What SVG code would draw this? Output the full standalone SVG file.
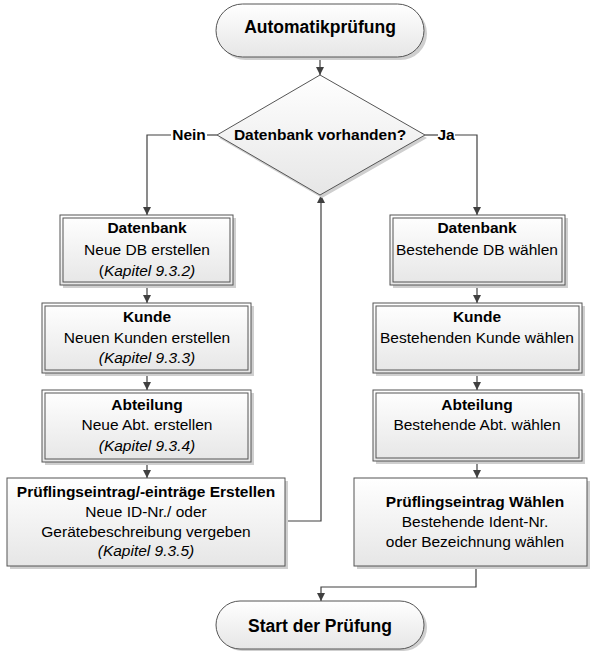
<svg xmlns="http://www.w3.org/2000/svg" width="593" height="652" viewBox="0 0 593 652">
<style>
text{font-family:"Liberation Sans",Arial,sans-serif;font-size:15.5px;fill:#000;text-anchor:middle}
.b{font-weight:bold}
.t{font-size:17.5px;font-weight:bold}
.i{font-style:italic}
.box{fill:url(#g);stroke:#555555;stroke-width:1}
.inner{fill:none;stroke:#555555;stroke-width:1}
.sh{fill:#cfcfcf}
.ln{fill:none;stroke:#404040;stroke-width:1.2}
</style>
<defs>
<linearGradient id="g" x1="0" y1="0" x2="0" y2="1">
<stop offset="0" stop-color="#ffffff"/>
<stop offset="1" stop-color="#e6e6e6"/>
</linearGradient>
<marker id="a" viewBox="0 0 10 10" refX="10" refY="5" markerWidth="8" markerHeight="8" markerUnits="userSpaceOnUse" orient="auto">
<path d="M0,0 L10,5 L0,10 z" fill="#404040"/>
</marker>
</defs>

<g id="connectors">
<path class="ln" d="M320,57 V75" marker-end="url(#a)"/>
<path class="ln" d="M217,135 H207"/>
<path class="ln" d="M171,135 H147 V215" marker-end="url(#a)"/>
<path class="ln" d="M425,135 H438"/>
<path class="ln" d="M455,135 H477 V215" marker-end="url(#a)"/>
<path class="ln" d="M147,285 V303" marker-end="url(#a)"/>
<path class="ln" d="M147,373 V390" marker-end="url(#a)"/>
<path class="ln" d="M147,462 V478" marker-end="url(#a)"/>
<path class="ln" d="M285,521 H321 V195" marker-end="url(#a)"/>
<path class="ln" d="M477,285 V303" marker-end="url(#a)"/>
<path class="ln" d="M477,373 V390" marker-end="url(#a)"/>
<path class="ln" d="M477,461 V478" marker-end="url(#a)"/>
<path class="ln" d="M476,566 V587 H321 V601" marker-end="url(#a)"/>
<text class="b" x="189" y="140">Nein</text>
<text class="b" x="446" y="140">Ja</text>
</g>

<g id="start">
<rect class="sh" x="219" y="7" width="208" height="53" rx="26.5"/>
<rect class="box" x="216" y="4" width="208" height="53" rx="26.5"/>
<text class="t" x="320" y="33">Automatikprüfung</text>
</g>

<g id="decision">
<polygon class="sh" points="322,78 427,138 322,198 219,138"/>
<polygon class="box" points="320,75 425,135 320,195 217,135"/>
<text class="b" x="320" y="140">Datenbank vorhanden?</text>
</g>

<g id="db-new">
<rect class="sh" x="63" y="218" width="173" height="70"/>
<rect class="box" x="60" y="215" width="173" height="70"/>
<rect class="inner" x="63" y="218" width="167" height="64"/>
<text class="b" x="147" y="233">Datenbank</text>
<text x="147" y="255">Neue DB erstellen</text>
<text x="147" y="276">(<tspan class="i">Kapitel 9.3.2)</tspan></text>
</g>

<g id="kunde-new">
<rect class="sh" x="45" y="306" width="209" height="70"/>
<rect class="box" x="42" y="303" width="209" height="70"/>
<rect class="inner" x="45" y="306" width="203" height="64"/>
<text class="b" x="147" y="322">Kunde</text>
<text x="147" y="343">Neuen Kunden erstellen</text>
<text class="i" x="147" y="363">(Kapitel 9.3.3)</text>
</g>

<g id="abt-new">
<rect class="sh" x="45" y="393" width="209" height="72"/>
<rect class="box" x="42" y="390" width="209" height="72"/>
<rect class="inner" x="45" y="393" width="203" height="66"/>
<text class="b" x="147" y="410">Abteilung</text>
<text x="147" y="430">Neue Abt. erstellen</text>
<text class="i" x="147" y="451">(Kapitel 9.3.4)</text>
</g>

<g id="pruef-new">
<rect class="sh" x="10" y="481" width="278" height="88"/>
<rect class="box" x="7" y="478" width="278" height="88"/>
<text class="b" x="146" y="497">Prüflingseintrag/-einträge Erstellen</text>
<text x="146" y="517">Neue ID-Nr./ oder</text>
<text x="146" y="537">Gerätebeschreibung vergeben</text>
<text class="i" x="146" y="556">(Kapitel 9.3.5)</text>
</g>

<g id="db-sel">
<rect class="sh" x="393" y="218" width="175" height="70"/>
<rect class="box" x="390" y="215" width="175" height="70"/>
<rect class="inner" x="393" y="218" width="169" height="64"/>
<text class="b" x="477" y="233">Datenbank</text>
<text x="477" y="255">Bestehende DB wählen</text>
</g>

<g id="kunde-sel">
<rect class="sh" x="376" y="306" width="209" height="70"/>
<rect class="box" x="373" y="303" width="209" height="70"/>
<rect class="inner" x="376" y="306" width="203" height="64"/>
<text class="b" x="477" y="322">Kunde</text>
<text x="477" y="343">Bestehenden Kunde wählen</text>
</g>

<g id="abt-sel">
<rect class="sh" x="376" y="393" width="209" height="71"/>
<rect class="box" x="373" y="390" width="209" height="71"/>
<rect class="inner" x="376" y="393" width="203" height="65"/>
<text class="b" x="477" y="410">Abteilung</text>
<text x="477" y="430">Bestehende Abt. wählen</text>
</g>

<g id="pruef-sel">
<rect class="sh" x="357" y="481" width="233" height="88"/>
<rect class="box" x="354" y="478" width="233" height="88"/>
<text class="b" x="475" y="507">Prüflingseintrag Wählen</text>
<text x="475" y="527">Bestehende Ident-Nr.</text>
<text x="475" y="547">oder Bezeichnung wählen</text>
</g>

<g id="end">
<rect class="sh" x="219" y="604" width="208" height="47" rx="23.5"/>
<rect class="box" x="216" y="601" width="208" height="48" rx="24"/>
<text class="t" x="320" y="632">Start der Prüfung</text>
</g>
</svg>
